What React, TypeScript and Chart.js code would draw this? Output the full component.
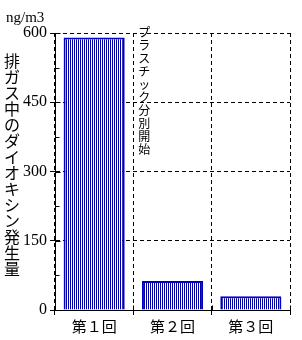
import { useEffect, useRef } from "react";
import { Chart, registerables } from "chart.js";

Chart.register(...registerables);

const categories = ["第１回", "第２回", "第３回"];
const values = [590, 63, 30];
const yTicks = [0, 150, 300, 450, 600];
const minorTicks = [75, 225, 375, 525];
const unitLabel = "ng/m3";
const yTitle = "排ガス中のダイオキシン発生量";
const note = "プラスチック分別開始";

const overlay = {
  id: "overlay",
  afterDraw(chart: any) {
    const { ctx, chartArea, scales } = chart;
    const y = scales.y;
    const x = scales.x;
    ctx.save();
    ctx.strokeStyle = "#000";
    ctx.lineWidth = 1;
    ctx.setLineDash([]);
    ctx.beginPath();
    const ax = Math.round(chartArea.left) + 0.5;
    for (const v of yTicks) {
      const py = Math.round(y.getPixelForValue(v)) + 0.5;
      ctx.moveTo(ax, py);
      ctx.lineTo(ax + 5, py);
    }
    for (const v of minorTicks) {
      const py = Math.round(y.getPixelForValue(v)) + 0.5;
      ctx.moveTo(ax, py);
      ctx.lineTo(ax + 4, py);
    }
    const by = Math.round(chartArea.bottom) + 0.5;
    for (let i = 0; i <= categories.length; i++) {
      const px = Math.round(x.getPixelForValue(i - 0.5)) + 0.5;
      ctx.moveTo(px, by);
      ctx.lineTo(px, by - 5);
    }
    ctx.stroke();

    ctx.fillStyle = "#000";
    ctx.font = "15px 'Liberation Serif'";
    ctx.textAlign = "left";
    ctx.textBaseline = "alphabetic";
    ctx.fillText(unitLabel, 6, 22);

    ctx.font = "16px 'Noto Sans CJK JP'";
    ctx.textAlign = "center";
    ctx.textBaseline = "top";
    Array.from(yTitle).forEach((ch, i) => {
      ctx.fillText(ch, 12, 53 + i * 16);
    });

    ctx.font = "12px 'Noto Sans CJK JP'";
    const nx = x.getPixelForValue(0.5) + 11;
    Array.from(note).forEach((ch, i) => {
      ctx.fillText(ch, nx, 26 + i * 13);
    });
    ctx.restore();
  },
};

export default function App() {
  const ref = useRef<HTMLCanvasElement | null>(null);

  useEffect(() => {
    const canvas = ref.current;
    if (!canvas) return;
    const ctx = canvas.getContext("2d")!;
    const pc = document.createElement("canvas");
    pc.width = 2;
    pc.height = 1;
    const pctx = pc.getContext("2d")!;
    pctx.fillStyle = "#ffffff";
    pctx.fillRect(0, 0, 2, 1);
    pctx.fillStyle = "#00009c";
    pctx.fillRect(0, 0, 1, 1);
    const pattern = ctx.createPattern(pc, "repeat");

    const chart = new Chart(ctx, {
      type: "bar",
      data: {
        labels: categories,
        datasets: [
          {
            data: values,
            backgroundColor: pattern as any,
            borderColor: "#0000c8",
            borderWidth: 2,
            barPercentage: 0.78,
            categoryPercentage: 1,
          },
        ],
      },
      options: {
        responsive: false,
        animation: false,
        layout: { padding: { top: 33, right: 12, left: 0, bottom: 0 } },
        plugins: {
          legend: { display: false },
          tooltip: { enabled: false },
          title: { display: false },
        },
        scales: {
          x: {
            type: "category",
            offset: true,
            grid: {
              offset: true,
              color: "#000",
              lineWidth: 1,
              tickLength: 5,
              tickColor: "#000",
            },
            border: { display: true, color: "#000", width: 1, dash: [4, 3] },
            ticks: {
              color: "#000",
              font: { family: "'Noto Sans CJK JP'", size: 15 },
              padding: 2,
              maxRotation: 0,
              autoSkip: false,
            },
            afterFit: (s: any) => {
              s.height = 30;
            },
          },
          y: {
            min: 0,
            max: 600,
            ticks: {
              stepSize: 150,
              color: "#000",
              font: { family: "'Liberation Serif'", size: 16 },
              padding: 3,
            },
            grid: {
              color: (c: any) => (c.tick && c.tick.value === 0 ? "rgba(0,0,0,0)" : "#000"),
              lineWidth: 1,
              tickLength: 5,
              tickColor: "#000",
            },
            border: { display: true, color: "#000", width: 1, dash: [4, 3] },
            afterFit: (s: any) => {
              s.width = 55;
            },
          },
        },
      },
      plugins: [overlay],
    });
    return () => chart.destroy();
  }, []);

  return (
    <div style={{ position: "fixed", left: 0, top: 0, width: 302, height: 340, background: "#fff" }}>
      <canvas ref={ref} width={302} height={340} style={{ display: "block" }} />
    </div>
  );
}
